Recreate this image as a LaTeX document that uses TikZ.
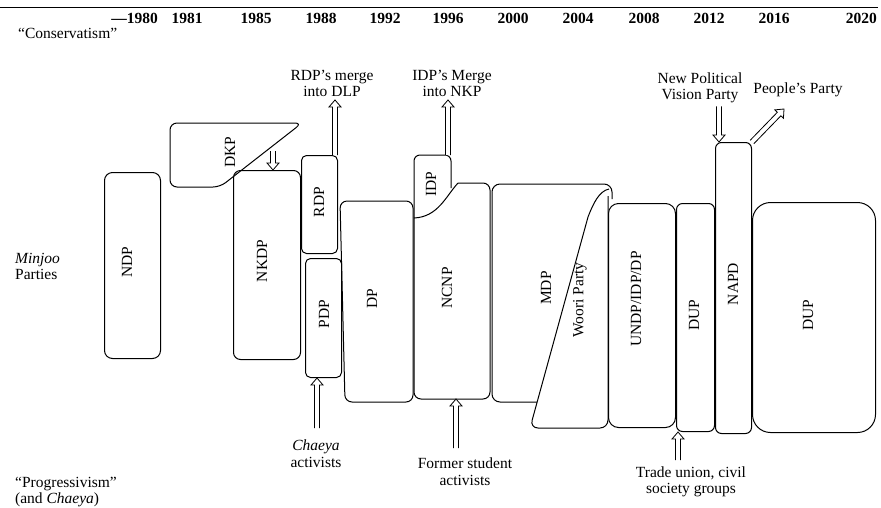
\documentclass[tikz,border=0pt]{standalone}
\usepackage{fontspec}
\setmainfont{Liberation Serif}
\usepackage{tikz}
\usetikzlibrary{calc}

\tikzset{
  partyline/.style={draw, line width=1pt},
  partybox/.style={partyline, rounded corners=7pt, anchor=north west, inner sep=0pt},
  partylabel/.style={rotate=90, inner sep=0pt, font=\fontsize{15.5}{16.5}\selectfont},
  yearlabel/.style={inner sep=0pt, font=\fontsize{15.5}{16.5}\selectfont\bfseries},
  notelabel/.style={align=center, inner sep=0pt, outer sep=3pt, font=\fontsize{15.5}{16.5}\selectfont},
  sidelabel/.style={align=left, anchor=west, inner sep=0pt, font=\fontsize{15.5}{16.5}\selectfont},
  arrowline/.style={draw, line width=0.8pt, line join=miter, fill=white}
}

% outlined arrow with an open head, from #1 to #2
\newcommand{\hollowarrow}[2]{%
  \coordinate (hs) at (#1);
  \coordinate (he) at (#2);
  \coordinate (hb) at ($(he)!7pt!(hs)$);
  \draw[arrowline] ($(hs)!2.5pt!90:(he)$) -- ($(hb)!2.5pt!-90:(hs)$) -- ($(hb)!6pt!-90:(hs)$)
    -- (he) -- ($(hb)!6pt!90:(hs)$) -- ($(hb)!2.5pt!90:(hs)$) -- ($(hs)!2.5pt!-90:(he)$);
}

\begin{document}
\begin{tikzpicture}[x=1pt, y=-1pt]
  \useasboundingbox (0,0) rectangle (881,507);

  % time axis
  \draw[line width=0.9pt] (0,7) -- (878,7);
  \node[yearlabel, anchor=east] (y1980) at (158,18) {—1980};
  \foreach \yr/\xx in {1981/187, 1985/256, 1988/321, 1992/385, 1996/448,
                       2000/513, 2004/578, 2008/644, 2012/709, 2016/774}
    \node[yearlabel] (y\yr) at (\xx,18) {\yr};
  \node[yearlabel, anchor=east] (y2020) at (877,18) {2020};

  % side labels
  \node[sidelabel, anchor=base west] (conserv) at (18,38) {“Conservatism”};
  \node[sidelabel] (minjoo) at (15,266.5) {\textit{Minjoo}\\Parties};
  \node[sidelabel] (progress) at (15,492) {“Progressivism”\\(and \textit{Chaeya})};

  % plain party boxes
  \node[partybox, rounded corners=8pt, minimum width=56pt, minimum height=186pt] (ndp) at (104,172) {};
  \node[partybox, minimum width=67pt, minimum height=189pt] (nkdp) at (233,170) {};
  \node[partybox, rounded corners=5pt, minimum width=36pt, minimum height=98pt] (rdp) at (301,155) {};
  \node[partybox, rounded corners=5pt, minimum width=36pt, minimum height=119pt] (pdp) at (305,258) {};
  \node[partybox, rounded corners=10pt, minimum width=67pt, minimum height=224pt] (undp) at (608,203) {};
  \node[partybox, rounded corners=6pt, minimum width=38pt, minimum height=228pt] (dupa) at (676,203) {};
  \node[partybox, rounded corners=6pt, minimum width=36pt, minimum height=291pt] (napd) at (715,142) {};
  \node[partybox, rounded corners=18pt, minimum width=123pt, minimum height=230pt] (dupb) at (752,202) {};

  % DKP, cut along its lower right side
  \draw[partyline, rounded corners=7pt] (170,123) -- (302,123) -- (220,187) -- (170,187) -- cycle;
  % DP, slanted on its left side
  \draw[partyline, rounded corners=7pt] (340,201) -- (413,201) -- (413,402) -- (345,402) -- cycle;
  % IDP and NCNP, sharing one curve
  \draw[partyline, rounded corners=6pt] (414,218) -- (414,155) -- (451,155) -- (451,188);
  \draw[partyline] (414,218) .. controls (438,217) and (446,196) .. (458,183);
  \draw[partyline, rounded corners=7pt] (458,183) -- (490,183) -- (490,399) -- (414,399) -- (414,218);
  \coordinate (ncnpbase) at (452,399);
  % MDP and Woori Party
  \draw[partyline, rounded corners=8pt] (537,402) -- (492,402) -- (492,184) -- (612,184) -- (612,199);
  \draw[partyline] (609,189) .. controls (599,191) and (593,204) .. (588,217);
  \draw[partyline, rounded corners=8pt] (588,217) -- (530,428) -- (608,428) -- (608,196);

  % party names
  \node[partylabel] (ndplbl) at (127,262) {NDP};
  \node[partylabel] (dkp) at (230,152) {DKP};
  \node[partylabel] (nkdplbl) at (262,261) {NKDP};
  \node[partylabel] (rdplbl) at (319,202) {RDP};
  \node[partylabel] (pdplbl) at (324,314) {PDP};
  \node[partylabel] (dp) at (372,299) {DP};
  \node[partylabel] (idp) at (431,184) {IDP};
  \node[partylabel] (ncnp) at (447,288) {NCNP};
  \node[partylabel] (mdp) at (546,288) {MDP};
  \node[partylabel] (woori) at (580,300) {Woori Party};
  \node[partylabel] (undplbl) at (636,299) {UNDP/IDP/DP};
  \node[partylabel] (dupalbl) at (694,315) {DUP};
  \node[partylabel] (napdlbl) at (733,284) {NAPD};
  \node[partylabel] (dupblbl) at (808,315) {DUP};

  % notes on joining and leaving
  \node[notelabel] (rdpnote) at (332,83.5) {RDP’s merge\\into DLP};
  \node[notelabel] (idpnote) at (452,83.5) {IDP’s Merge\\into NKP};
  \node[notelabel] (npvpnote) at (700,88) {New Political\\Vision Party};
  \node[notelabel] (peoplenote) at (798,90) {People’s Party};
  \node[notelabel] (chaeyanote) at (316,453.5) {\textit{Chaeya}\\activists};
  \node[notelabel] (formernote) at (465,471.5) {Former student\\activists};
  \node[notelabel] (tradenote) at (691,482) {Trade union, civil\\society groups};

  % hollow arrows
  \coordinate (dkpfoot) at (273,151);
  \hollowarrow{dkpfoot}{dkpfoot |- nkdp.north}
  \coordinate (rdpout) at ($(rdp.north east)+(-3,0)$);
  \hollowarrow{rdpout}{rdpout |- rdpnote.south}
  \coordinate (idpout) at (448,155);
  \hollowarrow{idpout}{idpout |- idpnote.south}
  \coordinate (napdin) at ($(napd.north west)+(4,0)$);
  \hollowarrow{napdin |- npvpnote.south}{napdin}
  \coordinate (peopletip) at (784,109);
  \hollowarrow{napd.north east}{peopletip}
  \coordinate (chaeyafoot) at (317,428);
  \hollowarrow{chaeyafoot}{chaeyafoot |- pdp.south}
  \coordinate (formerfoot) at (456,448);
  \hollowarrow{formerfoot}{formerfoot |- ncnpbase}
  \coordinate (tradefoot) at (678,460);
  \hollowarrow{tradefoot}{tradefoot |- dupa.south}
\end{tikzpicture}
\end{document}
